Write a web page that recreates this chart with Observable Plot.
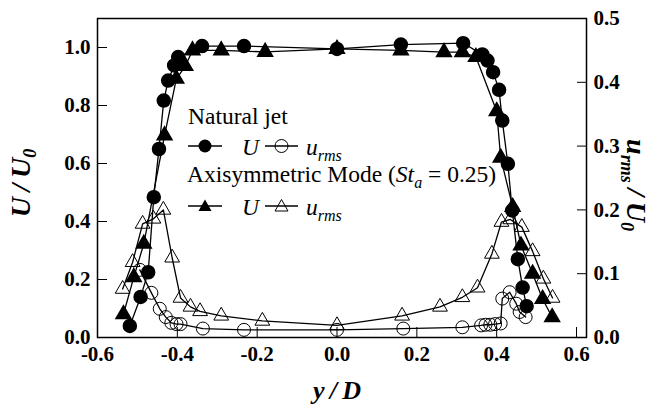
<!DOCTYPE html>
<html><head><meta charset="utf-8">
<script src="https://cdn.jsdelivr.net/npm/d3@7"></script>
<script src="https://cdn.jsdelivr.net/npm/@observablehq/plot@0.6"></script>
<style>
body{margin:0;background:#fff;}
#wrap{position:relative;width:656px;height:412px;font-family:"Liberation Serif","DejaVu Serif",serif;color:#000;}
.lab{position:absolute;font-weight:bold;font-style:italic;font-size:26px;white-space:nowrap;line-height:1;font-family:"Liberation Serif","DejaVu Serif",serif;}
#legend{position:absolute;left:0;top:0;pointer-events:none;}
</style></head><body><div id="wrap"></div>
<script>
// Natural jet, mean velocity U/U0
const natUx = [-0.519,-0.492,-0.473,-0.459,-0.446,-0.434,-0.423,-0.408,-0.398,-0.338,-0.233,0.0,0.16,0.316,0.364,0.377,0.391,0.406,0.414,0.428,0.439,0.453,0.465,0.475];
const natU  = [0.04,0.14,0.225,0.484,0.65,0.817,0.886,0.938,0.967,1.005,1.005,0.995,1.01,1.015,0.976,0.955,0.915,0.854,0.748,0.599,0.438,0.27,0.172,0.108];
// Axisymmetric mode, mean velocity U/U0
const axiUx = [-0.535,-0.509,-0.484,-0.432,-0.4025,-0.38,-0.362,-0.29,-0.18,0.0,0.16,0.268,0.314,0.348,0.40,0.41,0.44,0.461,0.49,0.515,0.539];
const axiU  = [0.08,0.208,0.323,0.697,0.892,0.936,0.99,0.99,0.985,0.995,0.99,0.984,0.984,0.967,0.78,0.62,0.45,0.317,0.22,0.133,0.07];
// Natural jet, u_rms/U0
const natRx = [-0.494,-0.465,-0.444,-0.429,-0.415,-0.402,-0.392,-0.336,-0.233,0.0,0.166,0.314,0.361,0.372,0.384,0.396,0.41,0.414,0.4325,0.449,0.4575,0.4725];
const natR  = [0.106,0.07,0.045,0.032,0.023,0.021,0.021,0.014,0.012,0.012,0.014,0.016,0.019,0.02,0.02,0.021,0.022,0.061,0.071,0.053,0.04,0.032];
// Axisymmetric mode, u_rms/U0
const axiRx = [-0.537,-0.512,-0.487,-0.46,-0.435,-0.413,-0.392,-0.367,-0.343,-0.29,-0.187,0.0,0.163,0.258,0.314,0.352,0.388,0.412,0.434,0.463,0.49,0.517,0.54];
const axiR  = [0.076,0.118,0.178,0.186,0.2,0.125,0.062,0.048,0.041,0.034,0.026,0.019,0.034,0.048,0.063,0.078,0.131,0.181,0.185,0.173,0.135,0.092,0.062];

const xTicks = [-0.6,-0.4,-0.2,0.0,0.2,0.4,0.6];
const yTicksLeft = [0.0,0.2,0.4,0.6,0.8,1.0];
const yTicksRight = [0.0,0.1,0.2,0.3,0.4,0.5];

const yMax = 1.1, rMax = 0.5, K = yMax / rMax;

const zip = (xs, ys, k = 1) => xs.map((x, i) => ({x, y: ys[i] * k}));
const dNatU = zip(natUx, natU), dAxiU = zip(axiUx, axiU);
const dNatR = zip(natRx, natR, K), dAxiR = zip(axiRx, axiR, K);

const fmt = d => (Math.abs(d) < 1e-9 ? 0 : d).toFixed(1);
const lw = 1.3;
const SERIF = '"Liberation Serif","DejaVu Serif",serif';

const chart = Plot.plot({
  width: 656, height: 412,
  marginLeft: 97, marginRight: 70, marginTop: 18, marginBottom: 75,
  style: {fontFamily: SERIF, fontSize: "21px", fontWeight: "bold", color: "#000", background: "#fff"},
  x: {domain: [-0.6, 0.625]},
  y: {domain: [0, yMax]},
  marks: [
    Plot.axisX({anchor: "bottom", ticks: xTicks, tickSize: -10, tickFormat: () => "", label: null}),
    Plot.axisX({anchor: "bottom", ticks: xTicks, tickSize: 0, tickPadding: 9, tickFormat: fmt, label: null, fontFamily: SERIF}),
    Plot.axisY({anchor: "left", ticks: yTicksLeft, tickSize: -10, tickFormat: () => "", label: null}),
    Plot.axisY({anchor: "left", ticks: yTicksLeft, tickSize: 0, tickPadding: 7, tickFormat: fmt, label: null, fontFamily: SERIF}),
    Plot.axisY({anchor: "right", ticks: yTicksRight.map(v => v * K), tickSize: -10, tickFormat: () => "", label: null}),
    Plot.axisY({anchor: "right", ticks: yTicksRight.map(v => v * K), tickSize: 0, tickPadding: 7, tickFormat: d => fmt(d / K), label: null, fontFamily: SERIF}),
    Plot.line(dAxiR, {x: "x", y: "y", stroke: "black", strokeWidth: lw}),
    Plot.line(dNatR, {x: "x", y: "y", stroke: "black", strokeWidth: lw}),
    Plot.line(dAxiU, {x: "x", y: "y", stroke: "black", strokeWidth: lw}),
    Plot.line(dNatU, {x: "x", y: "y", stroke: "black", strokeWidth: lw}),
    Plot.dot(dAxiR, {x: "x", y: "y", symbol: "triangle", r: 5.5, fill: "none", stroke: "black", strokeWidth: 1}),
    Plot.dot(dNatR, {x: "x", y: "y", symbol: "circle", r: 6.5, fill: "none", stroke: "black", strokeWidth: 1}),
    Plot.dot(dAxiU, {x: "x", y: "y", symbol: "triangle", r: 5.5, fill: "black", stroke: "black"}),
    Plot.dot(dNatU, {x: "x", y: "y", symbol: "circle", r: 6.5, fill: "black", stroke: "black"}),
    Plot.frame({stroke: "black", strokeWidth: 1.5})
  ]
});

const wrap = document.getElementById("wrap");
wrap.appendChild(chart);

function addLabel(html, cx, cy, rot, size) {
  const d = document.createElement("div");
  d.className = "lab";
  d.innerHTML = html;
  d.style.fontSize = size + "px";
  d.style.left = cx + "px"; d.style.top = cy + "px";
  d.style.transform = `translate(-50%,-50%) rotate(${rot}deg)`;
  wrap.appendChild(d);
}
addLabel('U&thinsp;/&thinsp;U<sub style="font-size:18px">0</sub>', 23, 183, -90, 28);
addLabel('u<sub style="font-size:18px">rms</sub>&thinsp;/&thinsp;U<sub style="font-size:18px">0</sub>', 634, 185, 90, 28);
addLabel('y&thinsp;/&thinsp;D', 337, 391, 0, 26);

// Legend
const NS = "http://www.w3.org/2000/svg";
const lg = document.createElementNS(NS, "svg");
lg.setAttribute("id", "legend"); lg.setAttribute("width", 656); lg.setAttribute("height", 412);
lg.innerHTML = `
<g font-family="Liberation Serif, DejaVu Serif, serif" font-size="23.5" fill="#000">
  <text x="188" y="124">Natural jet</text>
  <line x1="188" x2="222" y1="146" y2="146" stroke="#000" stroke-width="1.3"/>
  <circle cx="205" cy="146" r="6.5" fill="#000"/>
  <text x="242" y="155" font-style="italic">U</text>
  <line x1="265" x2="298" y1="146" y2="146" stroke="#000" stroke-width="1.3"/>
  <circle cx="281.5" cy="146" r="6.5" fill="none" stroke="#000"/>
  <text x="306" y="155" font-style="italic">u<tspan font-size="16" dy="6">rms</tspan></text>
  <text x="187" y="182">Axisymmetric Mode (<tspan font-style="italic">St</tspan><tspan font-style="italic" font-size="16" dy="6">a</tspan><tspan dy="-6"> = 0.25)</tspan></text>
  <line x1="188" x2="222" y1="206" y2="206" stroke="#000" stroke-width="1.3"/>
  <path d="M205,199.5 L211.5,211 L198.5,211 Z" fill="#000"/>
  <text x="242" y="215" font-style="italic">U</text>
  <line x1="265" x2="298" y1="206" y2="206" stroke="#000" stroke-width="1.3"/>
  <path d="M281.5,199.5 L288,211 L275,211 Z" fill="none" stroke="#000"/>
  <text x="306" y="215" font-style="italic">u<tspan font-size="16" dy="6">rms</tspan></text>
</g>`;
wrap.appendChild(lg);
</script></body></html>
